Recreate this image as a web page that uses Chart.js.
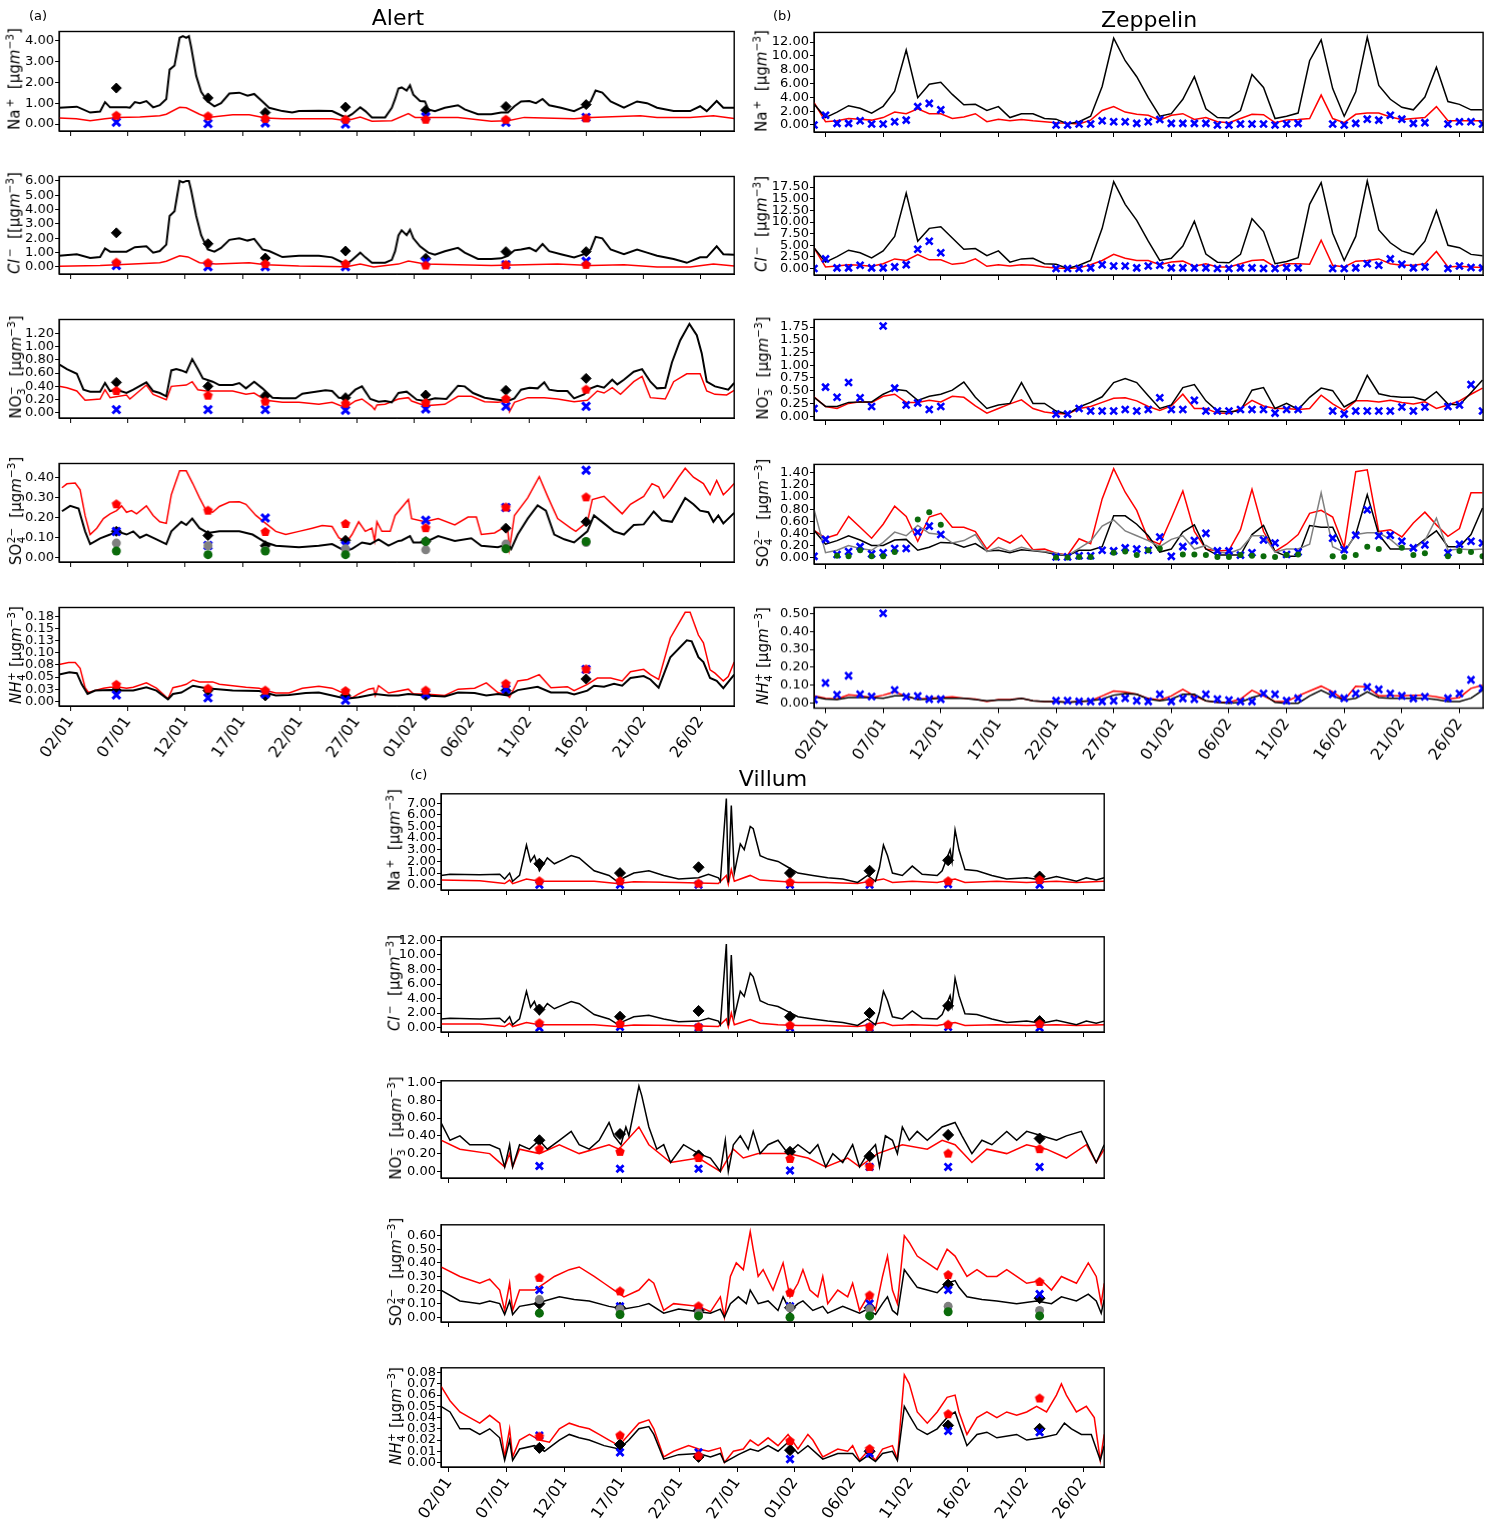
<!DOCTYPE html>
<html>
<head>
<meta charset="utf-8">
<script src="https://cdn.jsdelivr.net/npm/chart.js@4.4.0/dist/chart.umd.min.js"></script>
<style>
  body { margin: 0; background: #fff; overflow: hidden; }
  #page { position: relative; width: 1488px; height: 1522px; font-family: 'DejaVu Sans', sans-serif; color: #000; }
  .title { position: absolute; font-size: 22px; line-height: 1; white-space: nowrap; transform: translateX(-50%); }
  .tag { position: absolute; font-size: 13px; line-height: 1; }
  .ylab { position: absolute; font-size: 15px; line-height: 1; white-space: nowrap; transform: translate(-50%, -50%) rotate(-90deg); }
  .ylab sup { font-size: 0.7em; line-height: 0; }
  .ss { position: relative; display: inline-block; height: 1em; vertical-align: baseline; }
  .ss .up, .ss .dn { position: absolute; left: 0.05em; font-size: 0.7em; line-height: 1; }
  .ss .up { top: 0; }
  .ss .dn { top: 0.95em; }
  .box { position: absolute; }
</style>
</head>
<body>
<div id="page"></div>
<script>
// x axis: days since 01/01
const dateTickDays = [1, 6, 11, 16, 21, 26, 31, 36, 41, 46, 51, 56];
const dateTickLabels = ['02/01', '07/01', '12/01', '17/01', '22/01', '27/01', '01/02', '06/02', '11/02', '16/02', '21/02', '26/02'];

// ---------------- Alert ----------------
const alertSampleDays = [5, 13, 18, 25, 32, 39, 46];

const alertNaBlack = [[0,0.78],[1.55,0.83],[2.71,0.55],[3.58,0.6],[4.01,1.05],[4.45,0.8],[5.89,0.8],[6.18,0.78],[6.61,1.05],[7.05,1.0],[7.62,1.1],[8.21,0.8],[8.79,0.9],[9.36,1.2],[9.65,2.6],[10.08,2.8],[10.52,4.12],[10.81,4.2],[11.10,4.12],[11.33,4.2],[11.53,3.67],[11.97,2.3],[12.40,1.54],[12.98,1.08],[13.56,0.85],[14.14,1.0],[14.86,1.46],[15.73,1.5],[16.45,1.36],[17.03,1.44],[17.75,1.08],[18.33,0.78],[19.49,0.62],[20.35,0.55],[20.94,0.62],[22.67,0.64],[23.83,0.62],[24.69,0.4],[25.08,0.32],[25.57,0.47],[26.29,0.8],[26.73,0.62],[27.30,0.32],[28.46,0.32],[29.04,0.78],[29.33,1.2],[29.62,1.7],[29.90,1.75],[30.34,1.6],[30.63,1.85],[30.92,1.4],[31.50,1.1],[31.93,1.08],[32.22,0.7],[32.80,0.62],[33.67,0.78],[34.82,0.9],[35.40,0.7],[36.56,0.47],[37.72,0.47],[38.59,0.55],[39.17,0.55],[39.74,0.85],[40.32,1.08],[41.05,1.1],[41.62,1.0],[42.20,1.2],[42.78,0.9],[43.80,0.78],[44.95,0.62],[45.82,0.85],[46.40,1.08],[46.83,1.6],[47.41,1.5],[48.14,1.08],[49.30,0.78],[50.45,1.08],[51.32,1.0],[52.19,0.78],[53.64,0.62],[55.08,0.62],[55.95,0.85],[56.53,0.62],[57.40,1.1],[57.98,0.78],[58.93,0.78]];
const alertNaRed = [[0,0.29],[1.5,0.25],[2.71,0.16],[4.01,0.25],[5.02,0.32],[7.05,0.34],[8.79,0.4],[9.36,0.47],[10.52,0.8],[11.10,0.78],[12.26,0.47],[12.98,0.32],[15.15,0.44],[16.60,0.44],[18.04,0.29],[19.49,0.25],[23.83,0.25],[25.08,0.16],[26.29,0.34],[27.30,0.14],[29.04,0.16],[30.49,0.5],[31.06,0.32],[34.82,0.32],[37.72,0.13],[39.17,0.16],[40.6,0.32],[44.95,0.25],[46.40,0.32],[50.74,0.4],[52.19,0.32],[55.08,0.32],[57.11,0.4],[58.93,0.27]];
const alertNaObsBlack = [1.72, 1.25, 0.55, 0.81, 0.66, 0.84, 0.93];
const alertNaObsRed = [0.40, 0.37, 0.25, 0.21, 0.21, 0.21, 0.27];
const alertNaObsBlue = [0.09, 0.02, 0.05, 0.0, 0.35, 0.08, 0.32];

const alertClBlack = [[0,0.78],[1.55,0.89],[2.71,0.62],[3.58,0.69],[4.01,1.29],[4.45,1.07],[5.89,1.07],[6.61,1.38],[7.62,1.44],[8.21,1.0],[8.79,1.11],[9.36,1.56],[9.65,3.56],[10.08,3.89],[10.52,6.0],[10.81,5.9],[11.10,6.0],[11.33,6.0],[11.53,5.33],[11.97,3.56],[12.40,2.22],[12.98,1.22],[13.56,1.07],[14.14,1.33],[14.86,1.89],[15.73,2.0],[16.45,1.84],[17.03,1.96],[17.75,1.22],[18.33,1.11],[19.49,0.69],[20.94,0.78],[22.67,0.78],[23.83,0.67],[24.69,0.33],[25.08,0.18],[25.57,0.49],[26.29,1.0],[26.73,0.67],[27.30,0.3],[28.46,0.3],[29.04,0.5],[29.33,1.1],[29.62,2.2],[29.90,2.56],[30.34,2.22],[30.63,2.6],[30.92,2.0],[31.50,1.44],[32.22,1.0],[32.80,0.85],[33.67,1.1],[34.82,1.33],[35.40,1.0],[36.56,0.56],[37.72,0.56],[38.59,0.6],[39.17,0.78],[39.74,1.16],[40.32,1.22],[41.05,1.33],[41.62,1.1],[42.20,1.6],[42.78,1.1],[43.80,0.89],[44.95,0.67],[45.82,0.89],[46.40,1.22],[46.83,2.1],[47.41,2.0],[48.14,1.22],[49.30,0.89],[50.45,1.22],[51.32,1.0],[52.19,0.78],[53.64,0.56],[54.79,0.29],[55.95,0.67],[56.53,0.67],[57.40,1.44],[57.98,0.89],[58.93,0.85]];
const alertClRed = [[0,0.05],[3.58,0.1],[6.47,0.2],[8.79,0.3],[9.36,0.4],[10.52,0.78],[11.25,0.7],[12.26,0.3],[13.7,0.2],[16.6,0.3],[18.04,0.16],[20.94,0.07],[25.08,0.02],[26.29,0.2],[27.45,0.0],[29.62,0.2],[30.49,0.42],[31.93,0.2],[37.72,0.1],[43.51,0.2],[46.40,0.1],[49.30,0.16],[52.19,0.0],[55.08,0.0],[57.11,0.2],[58.93,0.07]];
const alertClObsBlack = [2.38, 1.62, 0.62, 1.11, 0.6, 1.07, 1.07];
const alertClObsRed = [0.3, 0.27, 0.2, 0.2, 0.1, 0.15, 0.15];
const alertClObsBlue = [0.1, 0.02, 0.02, 0.02, 0.35, 0.15, 0.4];

const alertNo3Black = [[0,0.73],[0.68,0.66],[1.55,0.59],[2.13,0.35],[2.71,0.32],[3.58,0.32],[4.01,0.45],[4.45,0.33],[5.02,0.35],[5.89,0.30],[6.47,0.35],[7.62,0.46],[8.21,0.33],[8.79,0.30],[9.36,0.25],[9.80,0.64],[10.23,0.66],[10.67,0.64],[11.10,0.61],[11.62,0.81],[12.11,0.66],[12.55,0.52],[13.41,0.47],[13.99,0.42],[15.15,0.42],[15.73,0.45],[16.31,0.37],[17.03,0.47],[17.75,0.37],[18.62,0.23],[19.49,0.22],[20.65,0.22],[21.23,0.29],[22.39,0.32],[23.25,0.34],[23.83,0.33],[24.41,0.23],[25.08,0.22],[25.86,0.35],[26.44,0.40],[27.16,0.21],[27.88,0.17],[28.46,0.18],[29.04,0.16],[29.62,0.30],[30.34,0.32],[30.63,0.28],[31.21,0.20],[31.93,0.18],[32.80,0.22],[33.81,0.21],[34.82,0.41],[35.40,0.40],[36.13,0.30],[37.14,0.23],[38.30,0.20],[39.17,0.18],[39.74,0.22],[40.32,0.35],[41.05,0.38],[41.77,0.37],[42.35,0.46],[42.78,0.35],[43.51,0.33],[44.37,0.33],[44.95,0.22],[45.82,0.28],[46.40,0.37],[46.98,0.41],[47.56,0.38],[48.28,0.50],[48.72,0.43],[49.30,0.50],[50.16,0.62],[50.89,0.66],[51.61,0.47],[52.19,0.37],[52.91,0.38],[53.49,0.76],[54.21,1.09],[55.02,1.34],[55.66,1.17],[56.09,0.90],[56.53,0.47],[57.25,0.40],[58.41,0.35],[58.93,0.45]];
const alertNo3Red = [[0,0.40],[0.68,0.38],[1.55,0.33],[2.27,0.19],[3.58,0.21],[4.01,0.35],[4.45,0.23],[5.89,0.27],[6.18,0.21],[7.62,0.42],[8.21,0.28],[9.36,0.20],[9.80,0.40],[11.10,0.42],[11.62,0.47],[12.11,0.35],[12.84,0.33],[15.15,0.33],[16.31,0.28],[17.03,0.30],[18.04,0.19],[19.49,0.16],[20.94,0.16],[22.67,0.13],[23.83,0.16],[24.99,0.08],[25.86,0.18],[26.44,0.21],[27.30,0.10],[27.54,0.05],[27.74,0.12],[28.46,0.13],[29.62,0.21],[30.49,0.23],[30.77,0.18],[31.93,0.11],[33.67,0.13],[34.82,0.25],[35.98,0.25],[37.14,0.17],[38.30,0.16],[39.17,0.18],[39.31,0.02],[39.74,0.16],[40.90,0.23],[42.35,0.23],[43.51,0.21],[44.95,0.17],[46.11,0.19],[46.98,0.33],[47.56,0.30],[48.28,0.38],[49.00,0.28],[50.16,0.47],[50.89,0.55],[51.61,0.23],[52.91,0.21],[53.64,0.47],[54.79,0.59],[55.95,0.59],[56.53,0.33],[57.25,0.28],[58.27,0.27],[58.93,0.34]];
const alertNo3ObsBlack = [0.46, 0.40, 0.26, 0.23, 0.27, 0.34, 0.52];
const alertNo3ObsRed = [0.33, 0.26, 0.17, 0.14, 0.15, 0.21, 0.35];
const alertNo3ObsBlue = [0.05, 0.05, 0.05, 0.04, 0.06, 0.10, 0.10];

const alertSo4Black = [[0.25,0.232],[0.97,0.259],[1.70,0.246],[2.27,0.131],[2.71,0.067],[3.58,0.096],[4.45,0.115],[5.02,0.131],[5.89,0.115],[6.47,0.131],[7.05,0.099],[7.62,0.115],[8.50,0.091],[9.36,0.067],[9.80,0.131],[10.67,0.179],[11.10,0.163],[11.62,0.195],[12.26,0.147],[12.98,0.123],[13.99,0.131],[15.73,0.131],[16.89,0.115],[18.04,0.075],[18.91,0.059],[20.94,0.051],[22.67,0.059],[23.83,0.067],[24.99,0.032],[25.57,0.043],[26.44,0.075],[27.16,0.067],[27.88,0.091],[28.75,0.059],[29.62,0.083],[29.90,0.085],[30.63,0.107],[30.92,0.075],[31.93,0.075],[33.09,0.107],[34.54,0.083],[35.98,0.096],[36.85,0.059],[38.30,0.051],[39.17,0.067],[39.46,0.043],[40.03,0.115],[40.90,0.195],[41.77,0.262],[42.49,0.235],[43.22,0.115],[44.09,0.091],[44.95,0.075],[46.11,0.131],[46.69,0.211],[47.56,0.171],[48.43,0.131],[49.30,0.115],[50.16,0.163],[51.03,0.166],[51.90,0.231],[52.62,0.187],[53.49,0.179],[54.65,0.299],[55.37,0.267],[55.95,0.235],[56.67,0.227],[57.11,0.179],[57.54,0.211],[57.98,0.171],[58.93,0.224]];
const alertSo4Red = [[0.25,0.35],[0.68,0.37],[1.41,0.374],[1.84,0.34],[2.27,0.21],[2.71,0.115],[3.29,0.147],[3.87,0.195],[4.45,0.219],[5.02,0.235],[5.46,0.259],[5.89,0.227],[6.32,0.235],[6.76,0.219],[7.62,0.259],[8.21,0.211],[8.79,0.179],[9.36,0.171],[9.80,0.315],[10.52,0.435],[11.10,0.435],[11.68,0.37],[12.26,0.299],[12.84,0.235],[13.41,0.227],[13.99,0.256],[14.86,0.278],[15.73,0.280],[16.31,0.267],[17.18,0.211],[18.04,0.171],[18.91,0.131],[19.78,0.115],[20.94,0.131],[22.10,0.147],[22.96,0.160],[23.83,0.155],[24.41,0.099],[25.08,0.075],[25.57,0.115],[26.15,0.179],[26.73,0.131],[27.30,0.147],[27.54,0.083],[27.74,0.179],[28.17,0.131],[28.90,0.131],[29.33,0.211],[30.49,0.291],[30.77,0.195],[31.93,0.179],[33.09,0.195],[34.54,0.163],[35.69,0.203],[36.42,0.203],[36.85,0.115],[38.01,0.123],[38.73,0.147],[39.17,0.131],[39.31,0.043],[39.74,0.211],[40.90,0.299],[41.91,0.406],[42.64,0.307],[43.51,0.195],[44.66,0.147],[45.10,0.131],[46.11,0.179],[46.54,0.291],[47.56,0.307],[48.43,0.259],[49.15,0.219],[49.87,0.267],[51.03,0.307],[51.75,0.371],[52.33,0.355],[52.77,0.299],[53.35,0.339],[54.07,0.403],[54.65,0.448],[55.37,0.403],[56.24,0.371],[56.82,0.315],[57.40,0.387],[57.98,0.315],[58.41,0.339],[58.93,0.371]];
const alertSo4ObsBlack = [0.131, 0.110, 0.059, 0.086, 0.08, 0.147, 0.179];
const alertSo4ObsRed = [0.267, 0.235, 0.128, 0.168, 0.147, 0.251, 0.302];
const alertSo4ObsBlue = [0.13, 0.06, 0.198, 0.06, 0.187, 0.251, 0.438];
const alertSo4ObsGrey = [0.072, 0.059, 0.035, 0.043, 0.038, 0.067, 0.075];
const alertSo4ObsGreen = [0.032, 0.014, 0.032, 0.014, 0.08, 0.043, 0.08];

const alertNh4Black = [[0,0.055],[0.9,0.060],[1.55,0.058],[1.98,0.035],[2.48,0.015],[3.14,0.022],[4.45,0.023],[5.31,0.022],[6.47,0.022],[7.62,0.029],[8.50,0.022],[9.51,0.004],[9.94,0.015],[10.67,0.018],[11.68,0.032],[12.84,0.027],[15.15,0.022],[17.47,0.021],[18.91,0.012],[20.07,0.013],[21.52,0.017],[22.67,0.018],[25.08,0.005],[26.15,0.008],[27.59,0.015],[28.75,0.012],[29.62,0.012],[30.49,0.015],[31.93,0.012],[33.67,0.010],[34.82,0.018],[36.27,0.017],[37.29,0.012],[38.30,0.015],[39.17,0.012],[40.03,0.023],[41.77,0.030],[42.93,0.018],[44.37,0.018],[44.95,0.014],[46.11,0.022],[46.69,0.032],[47.56,0.030],[48.43,0.036],[49.15,0.032],[49.87,0.048],[51.03,0.052],[51.61,0.045],[52.33,0.028],[53.35,0.091],[54.79,0.126],[55.22,0.124],[55.80,0.091],[56.24,0.081],[56.82,0.048],[57.40,0.042],[57.98,0.027],[58.93,0.055]];
const alertNh4Red = [[0,0.076],[0.83,0.080],[1.41,0.080],[1.84,0.068],[2.27,0.028],[2.56,0.018],[3.14,0.022],[3.87,0.027],[4.45,0.029],[5.31,0.029],[5.89,0.027],[6.47,0.029],[7.62,0.038],[8.50,0.027],[9.07,0.015],[9.51,0.005],[9.94,0.028],[10.67,0.032],[11.10,0.035],[11.68,0.044],[12.26,0.040],[13.41,0.040],[13.99,0.035],[15.15,0.032],[16.31,0.029],[17.47,0.027],[18.04,0.022],[18.91,0.017],[20.07,0.017],[21.23,0.027],[22.67,0.031],[23.83,0.027],[25.08,0.014],[25.57,0.007],[26.15,0.015],[27.01,0.025],[27.45,0.027],[27.59,0.012],[27.88,0.032],[28.75,0.017],[30.49,0.025],[30.92,0.015],[31.93,0.015],[33.67,0.012],[34.82,0.025],[36.27,0.027],[37.29,0.038],[38.30,0.018],[39.17,0.012],[39.31,0.008],[40.03,0.042],[40.90,0.045],[41.91,0.055],[42.93,0.028],[44.37,0.030],[44.95,0.022],[46.11,0.035],[46.98,0.048],[48.14,0.048],[49.15,0.042],[49.87,0.061],[51.03,0.066],[51.61,0.055],[52.33,0.045],[53.35,0.131],[54.65,0.184],[55.08,0.184],[55.80,0.137],[56.24,0.121],[56.82,0.065],[57.25,0.058],[57.98,0.042],[58.41,0.051],[58.93,0.081]];
const alertNh4ObsBlack = [0.023, 0.022, 0.011, 0.012, 0.012, 0.022, 0.046];
const alertNh4ObsRed = [0.034, 0.026, 0.022, 0.021, 0.022, 0.036, 0.066];
const alertNh4ObsBlue = [0.013, 0.007, 0.015, 0.002, 0.015, 0.025, 0.066];

// ---------------- Zeppelin (daily, 01/01 .. 28/02) ----------------
const zepNaBlack = [3.02,1.07,1.86,2.79,2.42,1.72,2.7,4.88,10.84,3.95,5.9,6.18,4.42,2.93,2.98,2.09,2.65,1.07,1.63,1.63,0.93,0.84,0.14,0.47,1.26,5.58,12.56,9.3,6.98,3.95,1.26,1.63,3.72,6.98,2.33,1.07,1.02,2.09,7.3,5.44,0.93,1.26,1.72,9.3,12.32,5.26,1.26,4.79,12.7,5.72,3.72,2.56,2.19,4.05,8.37,3.39,2.98,2.19,2.19];
const zepNaRed = [3.26,0.47,0.6,0.93,0.84,0.7,1.07,1.86,1.63,2.33,1.63,1.63,0.93,1.16,1.63,0.47,0.84,0.6,0.79,0.6,0.47,0.33,0.23,0.14,0.7,2.09,2.65,1.86,1.54,1.4,0.7,1.4,1.63,0.79,1.07,0.47,0.33,0.93,1.54,1.49,0.33,0.7,0.79,0.93,4.33,0.93,0.33,1.54,1.72,1.72,1.16,0.79,0.93,1.07,2.65,0.6,0.6,0.6,0.6];
const zepNaObsBlue = [0.0,1.4,0.23,0.23,0.6,0.14,0.14,0.47,0.7,2.65,3.12,2.19,null,null,null,null,null,null,null,null,null,0.0,0.0,0.14,0.14,0.6,0.47,0.47,0.23,0.47,0.79,0.23,0.23,0.23,0.23,0.0,0.0,0.14,0.14,0.14,0.0,0.14,0.23,null,null,0.14,0.0,0.23,0.84,0.7,1.4,0.84,0.23,0.33,null,0.14,0.47,0.47,0.14];

const zepClBlack = [4.48,1.37,2.55,3.94,3.38,2.28,3.8,6.9,16.2,5.87,8.63,8.98,6.56,4.15,4.3,2.76,3.8,1.37,2.07,2.2,1.04,0.9,0.0,0.7,1.73,8.63,18.67,13.8,10.37,5.87,1.73,2.2,4.83,10.17,3.11,1.37,1.24,3.04,10.7,7.95,1.04,1.5,2.35,13.8,18.46,7.6,1.73,6.9,18.8,8.28,5.53,3.8,3.0,5.87,12.45,5.0,4.48,3.04,2.76];
const zepClRed = [4.48,0.35,0.55,0.83,0.7,0.48,1.04,2.07,1.73,3.0,1.87,1.87,0.9,1.17,2.07,0.48,0.83,0.55,0.83,0.7,0.35,0.14,0.0,0.14,0.83,1.73,3.04,2.2,1.73,1.73,0.83,1.38,1.59,0.48,1.04,0.35,0.35,1.04,1.73,1.87,0.35,1.04,1.04,0.9,6.08,0.7,0.35,1.59,1.73,2.07,1.04,0.7,0.7,1.04,3.66,0.35,0.48,0.35,0.21];
const zepClObsBlue = [0.0,2.07,0.14,0.14,0.7,0.14,0.14,0.35,0.83,4.15,5.87,3.38,null,null,null,null,null,null,null,null,null,0.0,0.0,0.0,0.14,0.83,0.55,0.55,0.14,0.55,0.7,0.14,0.14,0.14,0.14,0.0,0.0,0.14,0.14,0.0,0.0,0.14,0.14,null,null,0.0,0.0,0.14,1.04,0.7,2.07,0.9,0.14,0.35,null,0.0,0.55,0.21,0.14];

const zepNo3Black = [0.37,0.19,0.19,0.27,0.28,0.28,0.43,0.53,0.5,0.31,0.39,0.43,0.51,0.67,0.37,0.15,0.22,0.25,0.66,0.25,0.25,0.1,0.04,0.18,0.27,0.38,0.66,0.74,0.66,0.40,0.15,0.22,0.56,0.62,0.30,0.1,0.08,0.11,0.51,0.56,0.15,0.25,0.13,0.37,0.55,0.5,0.18,0.31,0.8,0.44,0.39,0.37,0.37,0.31,0.48,0.24,0.22,0.46,0.71];
const zepNo3Red = [0.38,0.19,0.15,0.25,0.28,0.27,0.39,0.43,0.27,0.27,0.31,0.28,0.39,0.37,0.2,0.06,0.15,0.24,0.32,0.15,0.08,0.05,0.04,0.15,0.19,0.27,0.35,0.36,0.3,0.19,0.11,0.2,0.43,0.15,0.15,0.06,0.05,0.15,0.31,0.2,0.15,0.15,0.13,0.15,0.41,0.24,0.11,0.3,0.3,0.28,0.31,0.27,0.24,0.28,0.15,0.22,0.3,0.43,0.55];
const zepNo3ObsBlue = [0.15,0.57,0.37,0.66,0.36,0.19,1.77,0.55,0.22,0.26,0.13,0.19,null,null,null,null,null,null,null,null,null,0.04,0.04,0.15,0.1,0.1,0.1,0.13,0.1,0.13,0.36,0.13,0.13,0.31,0.1,0.1,0.1,0.13,0.13,0.13,0.06,0.13,0.13,null,null,0.1,0.04,0.1,0.1,0.1,0.1,0.18,0.1,0.18,null,0.19,0.22,0.62,0.1];

const zepSo4Black = [0.45,0.22,0.28,0.36,0.29,0.2,0.2,0.29,0.3,0.12,0.17,0.25,0.24,0.17,0.23,0.11,0.12,0.08,0.13,0.11,0.09,0.05,0.03,0.12,0.12,0.18,0.69,0.69,0.55,0.36,0.09,0.14,0.42,0.54,0.14,0.04,0.04,0.04,0.38,0.53,0.1,0.02,0.02,0.53,0.5,0.5,0.09,0.38,1.04,0.38,0.14,0.14,0.15,0.3,0.44,0.18,0.18,0.38,0.82];
const zepSo4Red = [0.45,0.32,0.38,0.68,0.5,0.32,0.55,0.85,0.68,0.27,0.67,0.73,0.5,0.5,0.43,0.14,0.33,0.24,0.37,0.13,0.14,0.07,0.04,0.31,0.23,0.97,1.47,1.08,0.78,0.30,0.22,0.65,1.1,0.43,0.14,0.11,0.12,0.46,1.13,0.43,0.1,0.22,0.38,0.73,0.78,0.67,0.17,1.42,1.45,0.43,0.46,0.34,0.57,0.75,0.54,0.35,0.48,1.07,1.07];
const zepSo4Grey = [0.8,0.08,0.12,0.2,0.15,0.12,0.25,0.42,0.36,0.53,0.4,0.38,0.24,0.28,0.38,0.1,0.17,0.1,0.17,0.12,0.1,0.07,0.03,0.15,0.27,0.52,0.62,0.44,0.36,0.28,0.18,0.3,0.36,0.14,0.2,0.09,0.07,0.14,0.36,0.36,0.09,0.14,0.14,0.22,1.07,0.18,0.09,0.38,0.41,0.41,0.3,0.14,0.14,0.28,0.65,0.12,0.14,0.13,0.14];
const zepSo4ObsBlue = [0.02,0.3,0.05,0.1,0.18,0.06,0.08,0.15,0.15,0.42,0.52,0.38,null,null,null,null,null,null,null,null,null,0.01,0.01,0.03,0.03,0.12,0.11,0.16,0.14,0.12,0.34,0.02,0.18,0.28,0.4,0.11,0.11,0.04,0.08,0.29,0.24,0.05,0.09,null,null,0.32,0.13,0.37,0.79,0.36,0.37,0.27,0.16,0.21,null,0.08,0.22,0.27,0.24];
const zepSo4ObsGreen = [null,null,0.03,0.02,0.12,0.02,0.02,0.09,null,0.63,0.75,0.54,null,null,null,null,null,null,null,null,null,0.0,0.0,0.01,0.01,null,0.08,0.1,0.04,0.12,0.15,null,0.05,0.05,0.04,0.01,0.01,0.04,0.03,0.02,0.01,0.04,0.05,null,null,0.02,0.01,0.04,0.18,0.14,null,0.16,0.04,0.07,null,0.02,0.11,0.09,0.02];

const zepNh4Black = [0.036,0.023,0.02,0.032,0.032,0.032,0.028,0.041,0.041,0.02,0.023,0.028,0.028,0.028,0.02,0.014,0.018,0.018,0.028,0.014,0.01,0.01,0.005,0.01,0.014,0.023,0.045,0.054,0.05,0.023,0.014,0.023,0.05,0.05,0.014,0.005,0.0,0.005,0.032,0.05,0.005,0.0,0.0,0.041,0.072,0.041,0.018,0.028,0.063,0.032,0.028,0.028,0.028,0.028,0.02,0.01,0.01,0.028,0.072];
const zepNh4Red = [0.041,0.028,0.023,0.047,0.041,0.032,0.045,0.063,0.038,0.023,0.028,0.032,0.036,0.028,0.023,0.01,0.02,0.02,0.028,0.014,0.01,0.01,0.005,0.01,0.014,0.041,0.068,0.063,0.05,0.027,0.018,0.041,0.077,0.041,0.014,0.005,0.005,0.023,0.072,0.041,0.01,0.01,0.041,0.068,0.095,0.063,0.018,0.095,0.09,0.041,0.041,0.041,0.045,0.045,0.036,0.023,0.032,0.083,0.1];
const zepNh4ObsBlue = [0.02,0.113,0.047,0.153,0.05,0.037,0.5,0.074,0.036,0.04,0.023,0.023,null,null,null,null,null,null,null,null,null,0.014,0.014,0.01,0.01,0.01,0.014,0.028,0.014,0.01,0.05,0.01,0.027,0.023,0.05,0.023,0.018,0.01,0.01,0.054,0.05,0.014,0.028,null,null,0.05,0.028,0.054,0.09,0.077,0.054,0.041,0.027,0.036,null,0.028,0.054,0.13,0.083];

// ---------------- Villum ----------------
const villumSampleDays = [8.84, 15.83, 22.64, 30.57, 37.47, 44.28, 52.21];

const villumNaBlack = [[0.31,0.8],[1.09,0.9],[3.67,0.85],[5.4,0.9],[5.83,0.5],[6.26,1.0],[6.52,0.3],[7.12,0.8],[7.72,3.4],[8.07,2.0],[8.41,2.5],[8.84,1.2],[9.53,2.3],[10.14,1.8],[11.0,2.2],[11.6,2.5],[12.29,2.3],[13.59,1.2],[14.88,0.8],[15.57,0.3],[16.17,0.6],[17.03,1.0],[18.33,1.2],[19.62,0.8],[20.91,0.5],[22.64,0.6],[23.5,0.9],[24.36,0.6],[24.53,0.3],[25.05,7.4],[25.22,0.2],[25.48,6.8],[25.74,1.0],[26.26,3.5],[26.6,3.0],[27.12,5.0],[27.38,4.8],[27.98,2.5],[28.67,2.2],[29.53,2.0],[30.4,1.5],[31.26,1.0],[32.55,0.8],[33.84,0.6],[35.14,0.5],[36.43,0.2],[37.29,0.8],[37.98,0.3],[38.33,1.5],[38.67,3.4],[39.02,2.5],[39.45,1.0],[40.31,0.8],[41.17,1.6],[42.03,0.9],[43.33,0.8],[43.76,1.2],[44.45,3.0],[44.62,2.0],[44.88,4.7],[45.22,3.0],[45.74,1.3],[46.78,1.2],[48.07,0.8],[49.36,0.5],[51.09,0.6],[52.38,0.4],[53.67,0.7],[55.4,0.3],[56.26,0.6],[57.12,0.4],[57.81,0.6]];
const villumNaRed = [[0.31,0.4],[3.67,0.35],[5.83,0.1],[6.26,0.4],[6.52,0.1],[7.72,0.5],[8.84,0.3],[11.0,0.3],[13.59,0.3],[15.57,0.1],[17.03,0.25],[20.91,0.2],[24.36,0.1],[25.05,0.8],[25.22,0.05],[25.48,1.3],[25.74,0.3],[27.12,0.8],[27.98,0.4],[29.53,0.3],[31.26,0.2],[33.84,0.2],[36.43,0.1],[38.67,0.5],[39.45,0.2],[41.17,0.3],[43.33,0.2],[44.88,0.5],[45.74,0.2],[48.5,0.3],[51.09,0.2],[53.67,0.3],[55.4,0.2],[57.81,0.3]];
const villumNaObsBlack = [1.8, 1.0, 1.5, 1.0, 1.2, 2.1, 0.7];
const villumNaObsRed = [0.3, 0.3, 0.1, 0.2, 0.2, 0.3, 0.4];
const villumNaObsBlue = [0.0, 0.0, 0.0, 0.0, 0.0, 0.05, 0.0];

const villumClBlack = [[0.31,1.2],[1.09,1.3],[3.67,1.2],[5.4,1.3],[5.83,0.7],[6.26,1.5],[6.52,0.4],[7.12,1.2],[7.72,5.0],[8.07,2.8],[8.41,3.6],[8.84,1.8],[9.53,3.3],[10.14,2.6],[11.0,3.2],[11.6,3.6],[12.29,3.3],[13.59,1.8],[14.88,1.2],[15.57,0.5],[16.17,0.9],[17.03,1.5],[18.33,1.7],[19.62,1.2],[20.91,0.8],[22.64,0.9],[23.5,1.3],[24.36,0.9],[24.53,0.4],[25.05,11.5],[25.22,0.3],[25.48,10.0],[25.74,1.5],[26.26,5.0],[26.6,4.3],[27.12,7.5],[27.38,7.0],[27.98,3.7],[28.67,3.2],[29.53,2.9],[30.4,2.2],[31.26,1.5],[32.55,1.2],[33.84,0.9],[35.14,0.7],[36.43,0.3],[37.29,1.2],[37.98,0.4],[38.33,2.2],[38.67,5.0],[39.02,3.7],[39.45,1.5],[40.31,1.2],[41.17,2.3],[42.03,1.3],[43.33,1.2],[43.76,1.8],[44.45,4.4],[44.62,3.0],[44.88,6.8],[45.22,4.4],[45.74,1.9],[46.78,1.8],[48.07,1.2],[49.36,0.7],[51.09,0.9],[52.38,0.6],[53.67,1.0],[55.4,0.4],[56.26,0.9],[57.12,0.6],[57.81,0.9]];
const villumClRed = [[0.31,0.5],[3.67,0.5],[5.83,0.15],[6.26,0.6],[6.52,0.15],[7.72,0.7],[8.84,0.4],[11.0,0.4],[13.59,0.4],[15.57,0.15],[17.03,0.35],[20.91,0.3],[24.36,0.15],[25.05,1.2],[25.22,0.1],[25.48,2.0],[25.74,0.4],[27.12,1.1],[27.98,0.6],[29.53,0.4],[31.26,0.3],[33.84,0.3],[36.43,0.15],[38.67,0.7],[39.45,0.3],[41.17,0.4],[43.33,0.3],[44.88,0.7],[45.74,0.3],[48.5,0.4],[51.09,0.3],[53.67,0.4],[55.4,0.3],[57.81,0.4]];
const villumClObsBlack = [2.5, 1.5, 2.3, 1.5, 2.0, 3.0, 0.9];
const villumClObsRed = [0.6, 0.5, 0.1, 0.3, 0.1, 0.4, 0.5];
const villumClObsBlue = [0.0, 0.1, 0.0, 0.0, 0.0, 0.1, 0.0];

const villumNo3Black = [[0.31,0.55],[1.09,0.35],[1.95,0.4],[2.81,0.3],[4.53,0.3],[5.4,0.25],[5.83,0.05],[6.26,0.3],[6.52,0.05],[7.12,0.3],[7.98,0.25],[8.84,0.35],[9.53,0.25],[10.57,0.35],[11.6,0.45],[12.29,0.3],[13.16,0.25],[14.02,0.35],[14.88,0.55],[15.31,0.4],[15.91,0.3],[16.34,0.5],[16.6,0.4],[17.47,0.96],[17.72,0.85],[18.33,0.5],[19.02,0.25],[19.62,0.3],[20.22,0.1],[21.34,0.3],[22.64,0.2],[23.67,0.15],[24.53,0.0],[24.96,0.35],[25.22,0.0],[25.66,0.3],[26.26,0.4],[26.95,0.25],[27.38,0.45],[27.98,0.2],[28.67,0.3],[29.53,0.35],[30.4,0.2],[31.26,0.3],[32.29,0.2],[32.98,0.3],[33.67,0.05],[34.28,0.2],[35.14,0.1],[36.0,0.3],[36.6,0.05],[37.29,0.2],[37.98,0.3],[38.33,0.05],[38.84,0.4],[39.45,0.35],[39.88,0.2],[40.31,0.5],[40.91,0.35],[41.6,0.45],[42.47,0.35],[43.76,0.5],[44.88,0.55],[45.48,0.4],[46.34,0.2],[47.21,0.35],[48.07,0.3],[49.36,0.45],[50.22,0.35],[51.09,0.45],[52.38,0.4],[53.67,0.35],[54.53,0.4],[55.83,0.45],[57.12,0.1],[57.81,0.3]];
const villumNo3Red = [[0.31,0.35],[1.95,0.25],[4.53,0.2],[5.83,0.05],[6.26,0.2],[6.52,0.05],[7.12,0.25],[8.84,0.2],[10.57,0.3],[12.29,0.2],[14.88,0.3],[15.74,0.25],[17.47,0.5],[18.33,0.3],[20.22,0.1],[22.64,0.15],[24.53,0.0],[25.66,0.25],[26.52,0.15],[27.81,0.2],[30.4,0.2],[32.12,0.15],[33.67,0.05],[35.57,0.15],[36.6,0.05],[38.16,0.2],[40.31,0.3],[42.47,0.25],[43.76,0.35],[44.88,0.3],[46.34,0.1],[47.64,0.25],[49.36,0.2],[51.09,0.3],[52.81,0.25],[54.53,0.15],[56.26,0.3],[57.12,0.1],[57.81,0.25]];
const villumNo3ObsBlack = [0.35, 0.42, 0.18, 0.22, 0.17, 0.41, 0.37];
const villumNo3ObsRed = [0.25, 0.22, 0.15, 0.14, 0.05, 0.2, 0.25];
const villumNo3ObsBlue = [0.06, 0.03, 0.03, 0.01, 0.05, 0.05, 0.05];

const villumSo4Black = [[0.31,0.2],[1.95,0.12],[3.67,0.1],[4.53,0.12],[5.4,0.1],[5.83,0.02],[6.26,0.12],[6.52,0.02],[7.12,0.08],[8.41,0.1],[9.28,0.12],[10.57,0.15],[11.86,0.13],[13.16,0.12],[14.88,0.08],[16.17,0.06],[17.47,0.08],[18.33,0.1],[19.62,0.03],[20.91,0.06],[22.64,0.04],[23.67,0.03],[24.53,0.06],[24.88,0.0],[25.4,0.1],[26.09,0.15],[26.78,0.1],[27.12,0.2],[27.81,0.1],[28.67,0.12],[29.53,0.05],[29.97,0.15],[30.57,0.05],[31.26,0.1],[31.69,0.12],[32.55,0.05],[33.41,0.08],[33.84,0.03],[35.14,0.08],[36.6,0.03],[37.29,0.06],[37.98,0.02],[38.59,0.1],[39.02,0.15],[39.45,0.05],[39.88,0.02],[40.48,0.35],[40.91,0.3],[41.6,0.22],[42.47,0.2],[43.33,0.18],[44.19,0.25],[44.88,0.27],[45.22,0.22],[45.91,0.15],[47.21,0.13],[48.5,0.12],[50.22,0.1],[51.95,0.12],[53.24,0.1],[54.1,0.15],[55.4,0.12],[56.43,0.17],[57.12,0.12],[57.55,0.03],[57.81,0.13]];
const villumSo4Red = [[0.31,0.37],[1.95,0.3],[3.67,0.25],[4.53,0.28],[5.4,0.2],[5.83,0.05],[6.26,0.25],[6.52,0.05],[7.12,0.2],[8.41,0.2],[9.28,0.25],[10.14,0.3],[11.43,0.35],[12.29,0.37],[13.59,0.3],[14.45,0.25],[15.31,0.2],[16.17,0.15],[17.47,0.2],[18.33,0.28],[18.76,0.25],[19.62,0.05],[20.48,0.1],[22.64,0.08],[23.67,0.04],[24.53,0.15],[24.88,0.0],[25.4,0.3],[25.91,0.4],[26.52,0.35],[27.12,0.63],[27.38,0.5],[27.81,0.3],[28.24,0.35],[29.1,0.2],[29.97,0.4],[30.57,0.15],[31.26,0.25],[31.69,0.35],[32.29,0.2],[32.98,0.15],[33.41,0.3],[33.84,0.1],[34.71,0.2],[35.57,0.15],[36.0,0.25],[36.6,0.05],[37.29,0.15],[37.98,0.05],[38.59,0.3],[39.02,0.45],[39.45,0.2],[39.88,0.1],[40.48,0.6],[40.91,0.55],[41.6,0.45],[42.47,0.4],[43.33,0.35],[44.19,0.5],[44.88,0.45],[45.22,0.4],[45.91,0.3],[46.78,0.35],[47.64,0.3],[48.5,0.3],[49.36,0.35],[50.22,0.3],[51.09,0.25],[52.38,0.27],[53.24,0.2],[54.1,0.3],[55.4,0.25],[56.43,0.4],[57.12,0.3],[57.55,0.1],[57.81,0.25]];
const villumSo4ObsBlack = [0.1, 0.07, 0.05, 0.07, 0.07, 0.24, 0.14];
const villumSo4ObsRed = [0.29, 0.19, 0.08, 0.18, 0.16, 0.31, 0.26];
const villumSo4ObsBlue = [0.2, 0.08, 0.05, 0.08, 0.1, 0.2, 0.17];
const villumSo4ObsGrey = [0.13, 0.06, 0.03, 0.07, 0.06, 0.08, 0.05];
const villumSo4ObsGreen = [0.03, 0.02, 0.01, 0.0, 0.01, 0.04, 0.01];

const villumNh4Black = [[0.31,0.05],[1.09,0.045],[1.95,0.03],[2.81,0.03],[3.67,0.025],[4.53,0.03],[5.4,0.022],[5.83,0.002],[6.26,0.02],[6.52,0.002],[7.12,0.012],[8.41,0.015],[9.28,0.01],[10.57,0.02],[11.43,0.025],[12.29,0.022],[13.16,0.02],[14.45,0.015],[15.74,0.012],[16.6,0.02],[17.47,0.03],[18.33,0.032],[18.76,0.025],[19.62,0.003],[20.91,0.007],[22.64,0.008],[23.67,0.005],[24.53,0.008],[24.88,0.0],[26.09,0.007],[27.12,0.012],[27.81,0.01],[28.67,0.015],[29.53,0.01],[30.4,0.018],[31.26,0.008],[32.12,0.015],[33.41,0.003],[34.71,0.008],[36.0,0.008],[36.6,0.001],[37.29,0.006],[37.98,0.001],[38.59,0.008],[39.45,0.01],[39.88,0.002],[40.48,0.05],[40.91,0.042],[41.6,0.03],[42.47,0.025],[43.33,0.03],[44.19,0.04],[44.88,0.045],[45.22,0.035],[45.91,0.015],[46.78,0.025],[47.64,0.027],[48.5,0.022],[50.22,0.025],[51.09,0.02],[52.38,0.022],[53.67,0.025],[54.36,0.035],[54.97,0.03],[55.83,0.025],[56.69,0.025],[57.47,0.002],[57.81,0.015]];
const villumNh4Red = [[0.31,0.068],[1.09,0.055],[1.95,0.045],[2.81,0.04],[3.67,0.035],[4.53,0.042],[5.4,0.035],[5.83,0.005],[6.26,0.03],[6.52,0.005],[7.12,0.02],[7.98,0.025],[8.84,0.02],[9.71,0.018],[10.57,0.03],[11.43,0.035],[12.29,0.032],[13.16,0.03],[14.02,0.025],[14.88,0.02],[15.74,0.015],[16.6,0.025],[17.47,0.035],[18.33,0.038],[18.76,0.03],[19.62,0.005],[20.48,0.01],[21.78,0.015],[22.64,0.012],[23.5,0.01],[24.53,0.013],[24.88,0.0],[25.66,0.01],[26.52,0.012],[27.12,0.02],[27.81,0.015],[28.67,0.022],[29.53,0.015],[30.4,0.025],[31.26,0.012],[32.12,0.025],[32.55,0.02],[33.41,0.005],[34.71,0.012],[35.57,0.01],[36.0,0.015],[36.6,0.002],[37.29,0.01],[37.98,0.002],[38.59,0.012],[39.45,0.015],[39.88,0.003],[40.48,0.078],[40.91,0.07],[41.6,0.045],[42.47,0.035],[43.33,0.045],[44.19,0.058],[44.88,0.06],[45.22,0.045],[45.91,0.025],[46.78,0.04],[47.64,0.045],[48.5,0.04],[49.36,0.045],[50.22,0.042],[51.09,0.045],[51.95,0.05],[52.81,0.045],[53.67,0.06],[54.1,0.07],[54.53,0.06],[55.4,0.045],[56.26,0.05],[56.95,0.04],[57.47,0.002],[57.81,0.025]];
const villumNh4ObsBlack = [0.013, 0.016, 0.005, 0.011, 0.01, 0.033, 0.03];
const villumNh4ObsRed = [0.023, 0.024, 0.006, 0.019, 0.012, 0.043, 0.057];
const villumNh4ObsBlue = [0.024, 0.009, 0.009, 0.003, 0.008, 0.028, 0.027];

// ---------------- y axis ticks ----------------
const alertNaTicks = [0, 1, 2, 3, 4];
const alertNaTickLabels = ['0.00', '1.00', '2.00', '3.00', '4.00'];
const alertClTicks = [0, 1, 2, 3, 4, 5, 6];
const alertClTickLabels = ['0.00', '1.00', '2.00', '3.00', '4.00', '5.00', '6.00'];
const alertNo3Ticks = [0, 0.2, 0.4, 0.6, 0.8, 1.0, 1.2];
const alertNo3TickLabels = ['0.00', '0.20', '0.40', '0.60', '0.80', '1.00', '1.20'];
const alertSo4Ticks = [0, 0.1, 0.2, 0.3, 0.4];
const alertSo4TickLabels = ['0.00', '0.10', '0.20', '0.30', '0.40'];
const alertNh4Ticks = [0, 0.025, 0.05, 0.075, 0.1, 0.125, 0.15, 0.175];
const alertNh4TickLabels = ['0.00', '0.03', '0.05', '0.08', '0.10', '0.13', '0.15', '0.18'];

const zepNaTicks = [0, 2, 4, 6, 8, 10, 12];
const zepNaTickLabels = ['0.00', '2.00', '4.00', '6.00', '8.00', '10.00', '12.00'];
const zepClTicks = [0, 2.5, 5, 7.5, 10, 12.5, 15, 17.5];
const zepClTickLabels = ['0.00', '2.50', '5.00', '7.50', '10.00', '12.50', '15.00', '17.50'];
const zepNo3Ticks = [0, 0.25, 0.5, 0.75, 1.0, 1.25, 1.5, 1.75];
const zepNo3TickLabels = ['0.00', '0.25', '0.50', '0.75', '1.00', '1.25', '1.50', '1.75'];
const zepSo4Ticks = [0, 0.2, 0.4, 0.6, 0.8, 1.0, 1.2, 1.4];
const zepSo4TickLabels = ['0.00', '0.20', '0.40', '0.60', '0.80', '1.00', '1.20', '1.40'];
const zepNh4Ticks = [0, 0.1, 0.2, 0.3, 0.4, 0.5];
const zepNh4TickLabels = ['0.00', '0.10', '0.20', '0.30', '0.40', '0.50'];

const villumNaTicks = [0, 1, 2, 3, 4, 5, 6, 7];
const villumNaTickLabels = ['0.00', '1.00', '2.00', '3.00', '4.00', '5.00', '6.00', '7.00'];
const villumClTicks = [0, 2, 4, 6, 8, 10, 12];
const villumClTickLabels = ['0.00', '2.00', '4.00', '6.00', '8.00', '10.00', '12.00'];
const villumNo3Ticks = [0, 0.2, 0.4, 0.6, 0.8, 1.0];
const villumNo3TickLabels = ['0.00', '0.20', '0.40', '0.60', '0.80', '1.00'];
const villumSo4Ticks = [0, 0.1, 0.2, 0.3, 0.4, 0.5, 0.6];
const villumSo4TickLabels = ['0.00', '0.10', '0.20', '0.30', '0.40', '0.50', '0.60'];
const villumNh4Ticks = [0, 0.01, 0.02, 0.03, 0.04, 0.05, 0.06, 0.07, 0.08];
const villumNh4TickLabels = ['0.00', '0.01', '0.02', '0.03', '0.04', '0.05', '0.06', '0.07', '0.08'];

// ---------------- helpers ----------------
Chart.defaults.font.family = "'DejaVu Sans', sans-serif";
Chart.defaults.color = '#000';

const page = document.getElementById('page');

function makePentagon(color, r) {
  const c = document.createElement('canvas');
  const s = Math.ceil(2 * r + 2);
  c.width = s; c.height = s;
  const g = c.getContext('2d');
  g.fillStyle = color;
  g.beginPath();
  for (let i = 0; i < 5; i++) {
    const a = -Math.PI / 2 + i * 2 * Math.PI / 5;
    g.lineTo(s / 2 + r * Math.cos(a), s / 2 + r * Math.sin(a));
  }
  g.closePath();
  g.fill();
  return c;
}
const pentagon = makePentagon('#ff0000', 5);

const pairs = list => list.map(p => ({ x: p[0], y: p[1] }));
const daily = values => values.map((v, i) => ({ x: i, y: v })).filter(p => p.y !== null);
const samples = (days, values) => days.map((d, i) => ({ x: d, y: values[i] })).filter(p => p.y !== null);

const lineSet = (points, color, width, order) => ({ data: points, showLine: true, borderColor: color, borderWidth: width, pointRadius: 0, order: order });
const diamondSet = (points, r) => ({ data: points, pointStyle: 'rectRot', pointRadius: r, backgroundColor: '#000', borderColor: '#000', borderWidth: 1, order: 5 });
const crossSet = (points, r, w) => ({ data: points, pointStyle: 'crossRot', pointRadius: r, borderColor: '#0000ff', borderWidth: w, order: 4 });
const pentagonSet = points => ({ data: points, pointStyle: pentagon, pointRadius: 5, order: 3 });
const dotSet = (points, color, r, order) => ({ data: points, pointStyle: 'circle', pointRadius: r, backgroundColor: color, borderWidth: 0, order: order });

const frame = {
  id: 'frame',
  afterDatasetsDraw(chart) {
    const { ctx, chartArea: a } = chart;
    ctx.save();
    ctx.strokeStyle = '#000';
    ctx.lineWidth = 1.4;
    ctx.strokeRect(a.left, a.top, a.right - a.left, a.bottom - a.top);
    ctx.restore();
  }
};

function addText(cls, html, left, top) {
  const d = document.createElement('div');
  d.className = cls;
  d.innerHTML = html;
  d.style.left = left + 'px';
  d.style.top = top + 'px';
  page.appendChild(d);
}

function addChart(box, yAxis, datasets, xRange, withDates) {
  const L = 70, T = 4, R = 4, B = withDates ? 80 : 10;
  const wrap = document.createElement('div');
  wrap.className = 'box';
  wrap.style.left = (box.left - L) + 'px';
  wrap.style.top = (box.top - T) + 'px';
  wrap.style.width = (box.right - box.left + L + R) + 'px';
  wrap.style.height = (box.bottom - box.top + T + B) + 'px';
  const canvas = document.createElement('canvas');
  wrap.appendChild(canvas);
  page.appendChild(wrap);

  new Chart(canvas, {
    type: 'scatter',
    data: { datasets: datasets },
    options: {
      responsive: true,
      maintainAspectRatio: false,
      animation: false,
      events: [],
      layout: { padding: { left: 0, top: T, right: R, bottom: 0 } },
      plugins: { legend: { display: false }, tooltip: { enabled: false } },
      scales: {
        x: {
          type: 'linear',
          min: xRange[0],
          max: xRange[1],
          afterBuildTicks: s => { s.ticks = dateTickDays.map(v => ({ value: v })); },
          afterFit: s => { s.height = B; s.paddingLeft = 0; s.paddingRight = 0; },
          grid: { drawOnChartArea: false, drawTicks: true, tickLength: 5, color: '#000' },
          border: { display: true, color: '#000' },
          ticks: {
            display: withDates, autoSkip: false, minRotation: 55, maxRotation: 55, padding: 2,
            font: { size: 16 }, color: '#000',
            callback: (v, i) => dateTickLabels[i]
          }
        },
        y: {
          type: 'linear',
          min: yAxis.min,
          max: yAxis.max,
          afterBuildTicks: s => { s.ticks = yAxis.ticks.map(v => ({ value: v })); },
          afterFit: s => { s.width = L; s.paddingTop = 0; s.paddingBottom = 0; },
          grid: { drawOnChartArea: false, drawTicks: true, tickLength: 4, color: '#000' },
          border: { display: true, color: '#000' },
          ticks: {
            autoSkip: false, padding: 1, font: { size: 13 }, color: '#000',
            callback: (v, i) => yAxis.labels[i]
          }
        }
      }
    },
    plugins: [frame]
  });
}

// ---------------- labels ----------------
const unit = '[μg<i>m</i><sup>−3</sup>]';
const stack = (up, dn, w) => '<span class="ss" style="width:' + w + 'em"><span class="up">' + up + '</span><span class="dn">' + dn + '</span></span>';
const labNa = 'Na<sup>&thinsp;+</sup>&nbsp; ' + unit;
const labClAlert = '<i>Cl</i><sup>&thinsp;−</sup>&nbsp; [' + unit;
const labCl = '<i>Cl</i><sup>&thinsp;−</sup>&nbsp; ' + unit;
const labNo3 = 'NO' + stack('−', '3', 0.65) + '&nbsp; ' + unit;
const labSo4 = 'SO' + stack('2−', '4', 1.1) + '&nbsp; ' + unit;
const labNh4 = '<i>NH</i>' + stack('+', '4', 0.65) + ' ' + unit;

// ---------------- Alert panel ----------------
const alertX = [0, 58.93];
const alertRows = [[27, 131], [172, 274], [315, 418], [459, 562], [603, 706]];
const alertSpecs = [
  { lab: labNa, y: { min: -0.33, max: 4.42, ticks: alertNaTicks, labels: alertNaTickLabels }, black: alertNaBlack, red: alertNaRed, ob: alertNaObsBlack, orr: alertNaObsRed, obl: alertNaObsBlue },
  { lab: labClAlert, y: { min: -0.49, max: 6.31, ticks: alertClTicks, labels: alertClTickLabels }, black: alertClBlack, red: alertClRed, ob: alertClObsBlack, orr: alertClObsRed, obl: alertClObsBlue },
  { lab: labNo3, y: { min: -0.076, max: 1.406, ticks: alertNo3Ticks, labels: alertNo3TickLabels }, black: alertNo3Black, red: alertNo3Red, ob: alertNo3ObsBlack, orr: alertNo3ObsRed, obl: alertNo3ObsBlue },
  { lab: labSo4, y: { min: -0.023, max: 0.472, ticks: alertSo4Ticks, labels: alertSo4TickLabels }, black: alertSo4Black, red: alertSo4Red, ob: alertSo4ObsBlack, orr: alertSo4ObsRed, obl: alertSo4ObsBlue, grey: alertSo4ObsGrey, green: alertSo4ObsGreen },
  { lab: labNh4, y: { min: -0.0099, max: 0.194, ticks: alertNh4Ticks, labels: alertNh4TickLabels }, black: alertNh4Black, red: alertNh4Red, ob: alertNh4ObsBlack, orr: alertNh4ObsRed, obl: alertNh4ObsBlue }
];
alertSpecs.forEach((s, k) => {
  const box = { left: 59, right: 737.7, top: alertRows[k][0], bottom: alertRows[k][1] };
  const sets = [
    lineSet(pairs(s.red), '#ff0000', 1.5, 12),
    lineSet(pairs(s.black), '#000', 2, 11),
    diamondSet(samples(alertSampleDays, s.ob), 5),
    crossSet(samples(alertSampleDays, s.obl), 5.5, 3),
    pentagonSet(samples(alertSampleDays, s.orr))
  ];
  if (s.grey) sets.push(dotSet(samples(alertSampleDays, s.grey), '#808080', 4.5, 2));
  if (s.green) sets.push(dotSet(samples(alertSampleDays, s.green), '#0b6b0b', 4.5, 1));
  addChart(box, s.y, sets, alertX, k === 4);
  addText('ylab', s.lab, 15, (box.top + box.bottom) / 2);
});
addText('title', 'Alert', 398, 6.5);
addText('tag', '(a)', 29, 9);

// ---------------- Zeppelin panel ----------------
const zepX = [0, 58.05];
const zepRows = [[29, 132], [173, 275], [316, 420], [461, 564], [604, 707.5]];
const zepSpecs = [
  { lab: labNa, y: { min: -1.02, max: 13.4, ticks: zepNaTicks, labels: zepNaTickLabels }, black: zepNaBlack, red: zepNaRed, obl: zepNaObsBlue },
  { lab: labCl, y: { min: -1.39, max: 19.8, ticks: zepClTicks, labels: zepClTickLabels }, black: zepClBlack, red: zepClRed, obl: zepClObsBlue },
  { lab: labNo3, y: { min: -0.076, max: 1.90, ticks: zepNo3Ticks, labels: zepNo3TickLabels }, black: zepNo3Black, red: zepNo3Red, obl: zepNo3ObsBlue },
  { lab: labSo4, y: { min: -0.107, max: 1.54, ticks: zepSo4Ticks, labels: zepSo4TickLabels }, black: zepSo4Black, red: zepSo4Red, grey: zepSo4Grey, obl: zepSo4ObsBlue, green: zepSo4ObsGreen },
  { lab: labNh4, y: { min: -0.027, max: 0.533, ticks: zepNh4Ticks, labels: zepNh4TickLabels }, black: zepNh4Black, red: zepNh4Red, obl: zepNh4ObsBlue }
];
zepSpecs.forEach((s, k) => {
  const box = { left: 813.5, right: 1486, top: zepRows[k][0], bottom: zepRows[k][1] };
  const sets = [
    lineSet(daily(s.red), '#ff0000', 1.5, 12),
    lineSet(daily(s.black), '#000', 1.5, 11)
  ];
  if (s.grey) sets.push(lineSet(daily(s.grey), '#808080', 1.5, 10));
  sets.push(crossSet(daily(s.obl), 4.8, 2.6));
  if (s.green) sets.push(dotSet(daily(s.green), '#0b6b0b', 3, 1));
  addChart(box, s.y, sets, zepX, k === 4);
  addText('ylab', s.lab, 762, (box.top + box.bottom) / 2);
});
addText('title', 'Zeppelin', 1149, 8.5);
addText('tag', '(b)', 773, 9);

// ---------------- Villum panel ----------------
const villumX = [0.31, 57.81];
const villumRows = [[790, 890], [933, 1032], [1077, 1178], [1221, 1322], [1364, 1467]];
const villumSpecs = [
  { lab: labNa, y: { min: -0.45, max: 7.8, ticks: villumNaTicks, labels: villumNaTickLabels }, black: villumNaBlack, red: villumNaRed, ob: villumNaObsBlack, orr: villumNaObsRed, obl: villumNaObsBlue },
  { lab: labCl, y: { min: -0.6, max: 12.5, ticks: villumClTicks, labels: villumClTickLabels }, black: villumClBlack, red: villumClRed, ob: villumClObsBlack, orr: villumClObsRed, obl: villumClObsBlue },
  { lab: labNo3, y: { min: -0.075, max: 1.02, ticks: villumNo3Ticks, labels: villumNo3TickLabels }, black: villumNo3Black, red: villumNo3Red, ob: villumNo3ObsBlack, orr: villumNo3ObsRed, obl: villumNo3ObsBlue },
  { lab: labSo4, y: { min: -0.035, max: 0.68, ticks: villumSo4Ticks, labels: villumSo4TickLabels }, black: villumSo4Black, red: villumSo4Red, ob: villumSo4ObsBlack, orr: villumSo4ObsRed, obl: villumSo4ObsBlue, grey: villumSo4ObsGrey, green: villumSo4ObsGreen },
  { lab: labNh4, y: { min: -0.004, max: 0.0843, ticks: villumNh4Ticks, labels: villumNh4TickLabels }, black: villumNh4Black, red: villumNh4Red, ob: villumNh4ObsBlack, orr: villumNh4ObsRed, obl: villumNh4ObsBlue }
];
villumSpecs.forEach((s, k) => {
  const box = { left: 441, right: 1108, top: villumRows[k][0], bottom: villumRows[k][1] };
  const sets = [
    lineSet(pairs(s.red), '#ff0000', 1.5, 12),
    lineSet(pairs(s.black), '#000', 1.5, 11),
    diamondSet(samples(villumSampleDays, s.ob), 5.5),
    crossSet(samples(villumSampleDays, s.obl), 5, 2.8),
    pentagonSet(samples(villumSampleDays, s.orr))
  ];
  if (s.grey) sets.push(dotSet(samples(villumSampleDays, s.grey), '#808080', 4.5, 2));
  if (s.green) sets.push(dotSet(samples(villumSampleDays, s.green), '#0b6b0b', 4.5, 1));
  addChart(box, s.y, sets, villumX, k === 4);
  addText('ylab', s.lab, 395, (box.top + box.bottom) / 2);
});
addText('title', 'Villum', 773, 767.5);
addText('tag', '(c)', 410, 768);
</script>
</body>
</html>
